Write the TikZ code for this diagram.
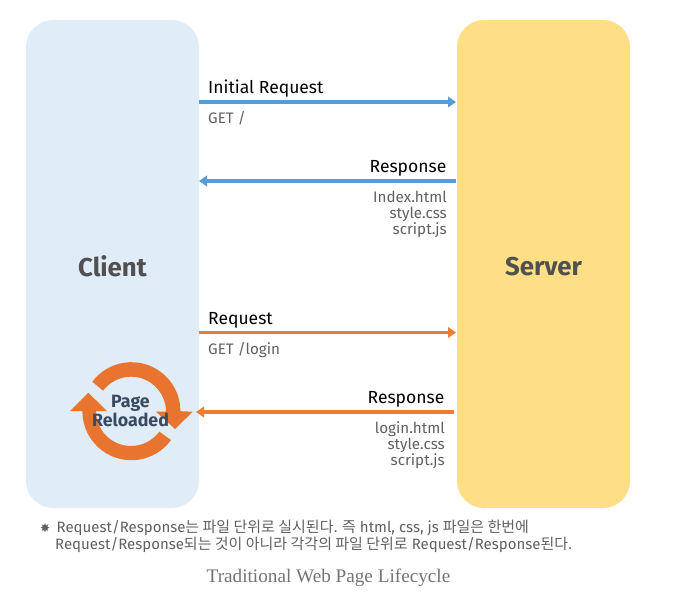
\documentclass[tikz,border=0pt]{standalone}
\usepackage{fontspec}
\setmainfont{Fira Sans}
\newfontfamily\krfont{Noto Sans CJK KR}
\newfontfamily\serifcap{Liberation Serif}
\newfontfamily\symfont{DejaVu Sans}
\usetikzlibrary{arrows.meta}
\definecolor{clientbg}{HTML}{E0ECF7}
\definecolor{serverbg}{HTML}{FFDF85}
\definecolor{blueline}{HTML}{5B9BD5}
\definecolor{orangeline}{HTML}{ED7D31}
\definecolor{cyc}{HTML}{E8742F}
\definecolor{navy}{HTML}{3A4A60}
\definecolor{big}{HTML}{505050}
\definecolor{sub}{HTML}{606060}
\tikzset{
  panel/.style={rounded corners=27pt,minimum width=173pt,minimum height=488pt,inner sep=0pt},
  title/.style={font=\fontsize{25.8}{28}\selectfont\bfseries,text=big,inner sep=0pt},
  flow/.style={line width=3.4pt,-{Triangle[length=8pt,width=10.5pt]}},
  head/.style={font=\fontsize{17.5}{20}\selectfont,text=black,inner sep=0pt},
  detail/.style={font=\fontsize{15.2}{16.2}\selectfont,text=sub,inner sep=0pt},
  cycle/.style={fill=cyc,draw=none},
  note/.style={anchor=base west,inner sep=0pt,font=\fontsize{15}{17}\selectfont,text=sub},
}
\begin{document}
\begin{tikzpicture}[x=1pt,y=-1pt]
\useasboundingbox (0,0) rectangle (676,597);
\node[panel,fill=clientbg] (client) at (112.5,264) {};
\node[panel,fill=serverbg] (server) at (543.5,264) {};
\node[title] (clienttxt) at (112.5,266) {Client};
\node[title] (servertxt) at (543.5,266.5) {Server};

\coordinate (a1s) at (199,102); \coordinate (a1e) at (456,102);
\coordinate (a2s) at (456,181); \coordinate (a2e) at (199,181);
\coordinate (a3s) at (199,332.5); \coordinate (a3e) at (456,332.5);
\coordinate (a4s) at (454,412); \coordinate (a4e) at (196,412);
\draw[flow,blueline] (a1s) -- (a1e);
\draw[flow,blueline] (a2s) -- (a2e);
\draw[flow,orangeline] (a3s) -- (a3e);
\draw[flow,orangeline] (a4s) -- (a4e);

\node[head,anchor=base west] (l1) at (208,93.5) {Initial Request};
\node[detail,anchor=base west] (d1) at (208,123) {GET /};
\node[head,anchor=base east] (l2) at (446.5,172) {Response};
\node[detail,anchor=north east,align=right] (d2) at (447,190.5) {Index.html\\style.css\\script.js};
\node[head,anchor=base west] (l3) at (208,324.5) {Request};
\node[detail,anchor=base west] (d3) at (208,354) {GET /login};
\node[head,anchor=base east] (l4) at (444.5,403.5) {Response};
\node[detail,anchor=north east,align=right] (d4) at (445,421.5) {login.html\\style.css\\script.js};

% circular arrows
\fill[cycle] (92.3,381.7) arc[start angle=217,end angle=360,radius=49] -- (192.7,411.7) -- (175,429) -- (156,411.7) -- (166,411.7)
  arc[start angle=360,end angle=217,radius=35] -- cycle;
\fill[cycle] (171,440) arc[start angle=36,end angle=180,radius=49] -- (70,411) -- (88.3,392.7) -- (107,411) -- (96,411)
  arc[start angle=180,end angle=36,radius=35] -- cycle;
\node[font=\fontsize{17.8}{19}\selectfont\bfseries,text=navy,align=center,inner sep=0pt] (reload) at (130.5,411) {Page\\Reloaded};

\node[anchor=base west,inner sep=0pt,font=\symfont\fontsize{12}{15}\selectfont,text=sub] (n0) at (40,532.5) {✸};
\node[note] (n1) at (56.5,532.5) {Request/Response{\krfont 는 파일 단위로 실시된다. 즉} html, css, js {\krfont 파일은 한번에}};
\node[note] (n2) at (55,549.5) {Request/Response{\krfont 되는 것이 아니라 각각의 파일 단위로} Request/Response{\krfont 된다.}};
\node[anchor=base,inner sep=0pt,font=\serifcap\fontsize{19.2}{21}\selectfont,text=black!55] (cap) at (328.5,582) {Traditional Web Page Lifecycle};
\end{tikzpicture}
\end{document}
